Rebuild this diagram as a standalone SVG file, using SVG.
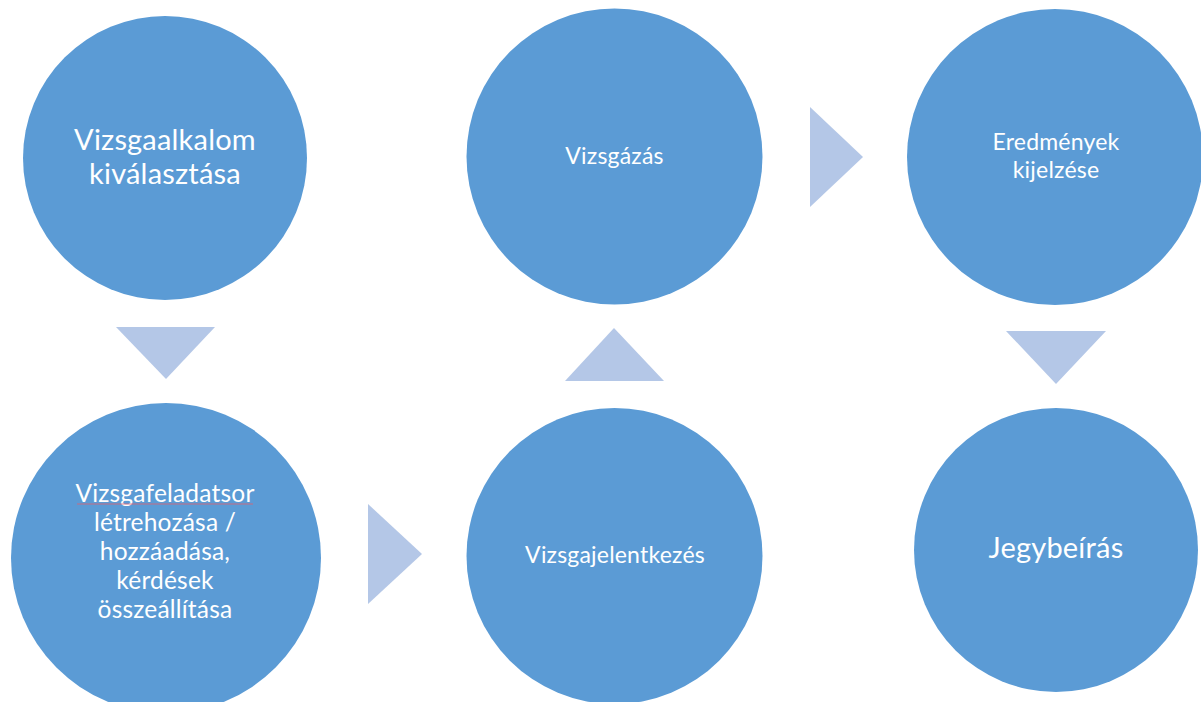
<svg xmlns="http://www.w3.org/2000/svg" width="1201" height="702" viewBox="0 0 1201 702">
<style>
.c{fill:#5B9BD5}
.a{fill:#B4C7E7}
.t{fill:#FFFFFF;font-family:Lato,"Open Sans","Liberation Sans",sans-serif;text-anchor:middle;letter-spacing:0.2px}
</style>
<rect width="1201" height="702" fill="#FFFFFF"/>
<g id="connectors">
<polygon class="a" points="116,327 215,327 166,379"/>
<polygon class="a" points="368,504 368,604 422,554"/>
<polygon class="a" points="565,381 664,381 614,328"/>
<polygon class="a" points="810,107 810,207 863,157"/>
<polygon class="a" points="1006,331 1106,331 1056,384"/>
</g>
<g id="n1">
<circle class="c" cx="165" cy="158" r="142"/>
<text class="t" font-size="29"><tspan x="165" y="150">Vizsgaalkalom</tspan><tspan x="165" y="184">kiválasztása</tspan></text>
</g>
<g id="n2">
<circle class="c" cx="166" cy="558" r="155"/>
<text class="t" font-size="24.5"><tspan x="165" y="502">Vizsgafeladatsor</tspan><tspan x="165" y="531">létrehozása /</tspan><tspan x="165" y="560">hozzáadása,</tspan><tspan x="165" y="589">kérdések</tspan><tspan x="165" y="618">összeállítása</tspan></text>
<path d="M77,504 L253,504" stroke="#E06070" stroke-width="0.8" fill="none"/>
</g>
<g id="n3">
<circle class="c" cx="614.5" cy="156.5" r="148"/>
<text class="t" font-size="23" x="614.5" y="164">Vizsgázás</text>
</g>
<g id="n4">
<circle class="c" cx="614.5" cy="556" r="148"/>
<text class="t" font-size="23" x="615" y="563">Vizsgajelentkezés</text>
</g>
<g id="n5">
<circle class="c" cx="1055" cy="157" r="148"/>
<text class="t" font-size="23"><tspan x="1056" y="150">Eredmények</tspan><tspan x="1056" y="178">kijelzése</tspan></text>
</g>
<g id="n6">
<circle class="c" cx="1056" cy="550" r="142"/>
<text class="t" font-size="29" x="1056" y="558">Jegybeírás</text>
</g>
</svg>
